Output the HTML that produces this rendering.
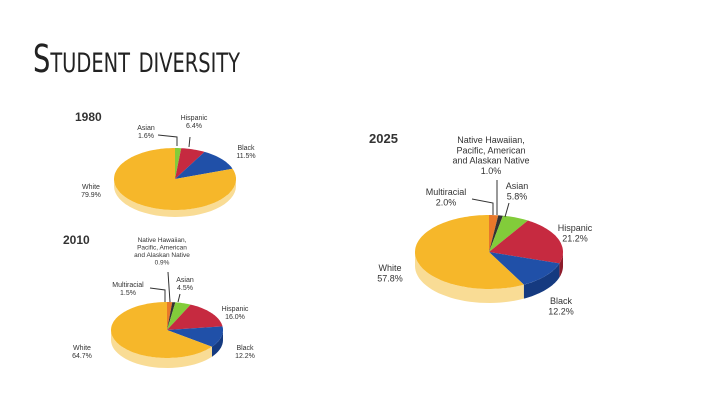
<!DOCTYPE html>
<html><head><meta charset="utf-8"><style>
html,body{margin:0;padding:0;background:#fff;width:720px;height:405px;overflow:hidden}
svg text{font-family:"Liberation Sans","DejaVu Sans",sans-serif}
</style></head><body>
<svg id="s" width="720" height="405" viewBox="0 0 720 405">
<text x="33" y="72" font-size="38" textLength="207" lengthAdjust="spacingAndGlyphs" fill="#222" style="font-family:'DejaVu Sans Condensed','Liberation Sans Narrow',sans-serif;font-variant:small-caps;font-weight:300">Student diversity</text>
<g id="g" fill="#333"></g>
</svg>
<script>
const cats1980=["Asian","Hispanic","Black","White"];
const vals1980=[1.6,6.4,11.5,79.9];
const cats2010=["Multiracial","Native","Asian","Hispanic","Black","White"];
const vals2010=[1.5,0.9,4.5,16.0,12.2,64.7];
const cats2025=["Multiracial","Native","Asian","Hispanic","Black","White"];
const vals2025=[2.0,1.0,5.8,21.2,12.2,57.8];
const colorMap={Multiracial:["#e8782a","#b85a1a"],Native:["#333","#222"],Asian:["#82cc3a","#5a9a25"],Hispanic:["#c62a40","#8e1c2c"],Black:["#2050a8","#153a80"],White:["#f6b72a","#f9dc95"]};
const NS="http://www.w3.org/2000/svg";
const g=document.getElementById('g');
function pt(p,a,dy){return [p.cx+p.rx*Math.sin(a),p.cy-p.ry*Math.cos(a)+(dy||0)];}
function drawPie(p,cats,vals,name){
  const tot=vals.reduce((a,b)=>a+b,0);
  let a0=0;const sl=[];
  vals.forEach((v,i)=>{const a1=a0+v/tot*2*Math.PI;sl.push([cats[i],a0,a1]);a0=a1;});
  sl.forEach(([c,s,e])=>{
    const lo=Math.max(s,Math.PI/2),hi=Math.min(e,3*Math.PI/2);
    if(hi<=lo)return;
    let d="";const n=30;
    for(let k=0;k<=n;k++){const a=lo+(hi-lo)*k/n;const q=pt(p,a);d+=(k?"L":"M")+q[0].toFixed(1)+" "+q[1].toFixed(1);}
    for(let k=n;k>=0;k--){const a=lo+(hi-lo)*k/n;const q=pt(p,a,p.d);d+="L"+q[0].toFixed(1)+" "+q[1].toFixed(1);}
    const el=document.createElementNS(NS,'path');el.setAttribute('d',d+"Z");el.setAttribute('fill',colorMap[c][1]);
    
    
    g.appendChild(el);
  });
  sl.forEach(([c,s,e])=>{
    let d="M"+p.cx+" "+p.cy;const n=Math.max(4,Math.ceil((e-s)*30));
    for(let k=0;k<=n;k++){const q=pt(p,s+(e-s)*k/n);d+="L"+q[0].toFixed(1)+" "+q[1].toFixed(1);}
    const el=document.createElementNS(NS,'path');el.setAttribute('d',d+"Z");el.setAttribute('fill',colorMap[c][0]);
    
    
    g.appendChild(el);
  });
}
drawPie({cx:175,cy:179,rx:61,ry:31,d:7},cats1980,vals1980,'pie-1980');
drawPie({cx:167,cy:330,rx:56,ry:28,d:10},cats2010,vals2010,'pie-2010');
drawPie({cx:489,cy:252,rx:74,ry:37,d:14},cats2025,vals2025,'pie-2025');
function txt(x,y,lines,size,anchor,bold,name){
  const t=document.createElementNS(NS,'text');t.setAttribute('x',x);t.setAttribute('y',y);t.setAttribute('font-size',size);
  t.setAttribute('text-anchor',anchor||'middle');t.setAttribute('fill','#333');if(bold)t.setAttribute('font-weight','bold');
  lines.forEach((l,i)=>{const s=document.createElementNS(NS,'tspan');s.setAttribute('x',x);s.setAttribute('dy',i?size*1.15:0);s.textContent=l;t.appendChild(s);});
  
  
  g.appendChild(t);
}
function ln(d,name){const el=document.createElementNS(NS,'path');el.setAttribute('d',d);el.setAttribute('stroke','#333');el.setAttribute('fill','none');el.setAttribute('stroke-width','1');
  
  
  g.appendChild(el);}
txt(75,121,["1980"],12,'start',true,'year-1980');
txt(146,130,["Asian","1.6%"],7,'middle',false,'label-1980-asian');
txt(194,120,["Hispanic","6.4%"],7,'middle',false,'label-1980-hispanic');
txt(246,150,["Black","11.5%"],7,'middle',false,'label-1980-black');
txt(91,189,["White","79.9%"],7,'middle',false,'label-1980-white');
ln("M158 135 L177 137 L177 146",'leader-1980-asian');ln("M190 137 L189 147",'leader-1980-hispanic');
txt(63,244,["2010"],12,'start',true,'year-2010');
txt(162,242,["Native Hawaiian,","Pacific, American","and Alaskan Native","0.9%"],6.5,'middle',false,'label-2010-native');
txt(185,282,["Asian","4.5%"],7,'middle',false,'label-2010-asian');
txt(128,287,["Multiracial","1.5%"],7,'middle',false,'label-2010-multiracial');
txt(235,311,["Hispanic","16.0%"],7,'middle',false,'label-2010-hispanic');
txt(245,350,["Black","12.2%"],7,'middle',false,'label-2010-black');
txt(82,350,["White","64.7%"],7,'middle',false,'label-2010-white');
ln("M150 288 L165 290 L165 302",'leader-2010-multi');ln("M168 272 L170 302",'leader-2010-native');ln("M180 294 L178 302",'leader-2010-asian');
txt(369,143,["2025"],13,'start',true,'year-2025');
txt(491,143,["Native Hawaiian,","Pacific, American","and Alaskan Native","1.0%"],9,'middle',false,'label-2025-native');
txt(446,195,["Multiracial","2.0%"],9,'middle',false,'label-2025-multiracial');
txt(517,189,["Asian","5.8%"],9,'middle',false,'label-2025-asian');
txt(575,231,["Hispanic","21.2%"],9,'middle',false,'label-2025-hispanic');
txt(561,304,["Black","12.2%"],9,'middle',false,'label-2025-black');
txt(390,271,["White","57.8%"],9,'middle',false,'label-2025-white');
ln("M472 199 L493 203 L493 215",'leader-2025-multi');ln("M497 180 L497 215",'leader-2025-native');ln("M509 203 L505 217",'leader-2025-asian');
</script>
</body></html>
